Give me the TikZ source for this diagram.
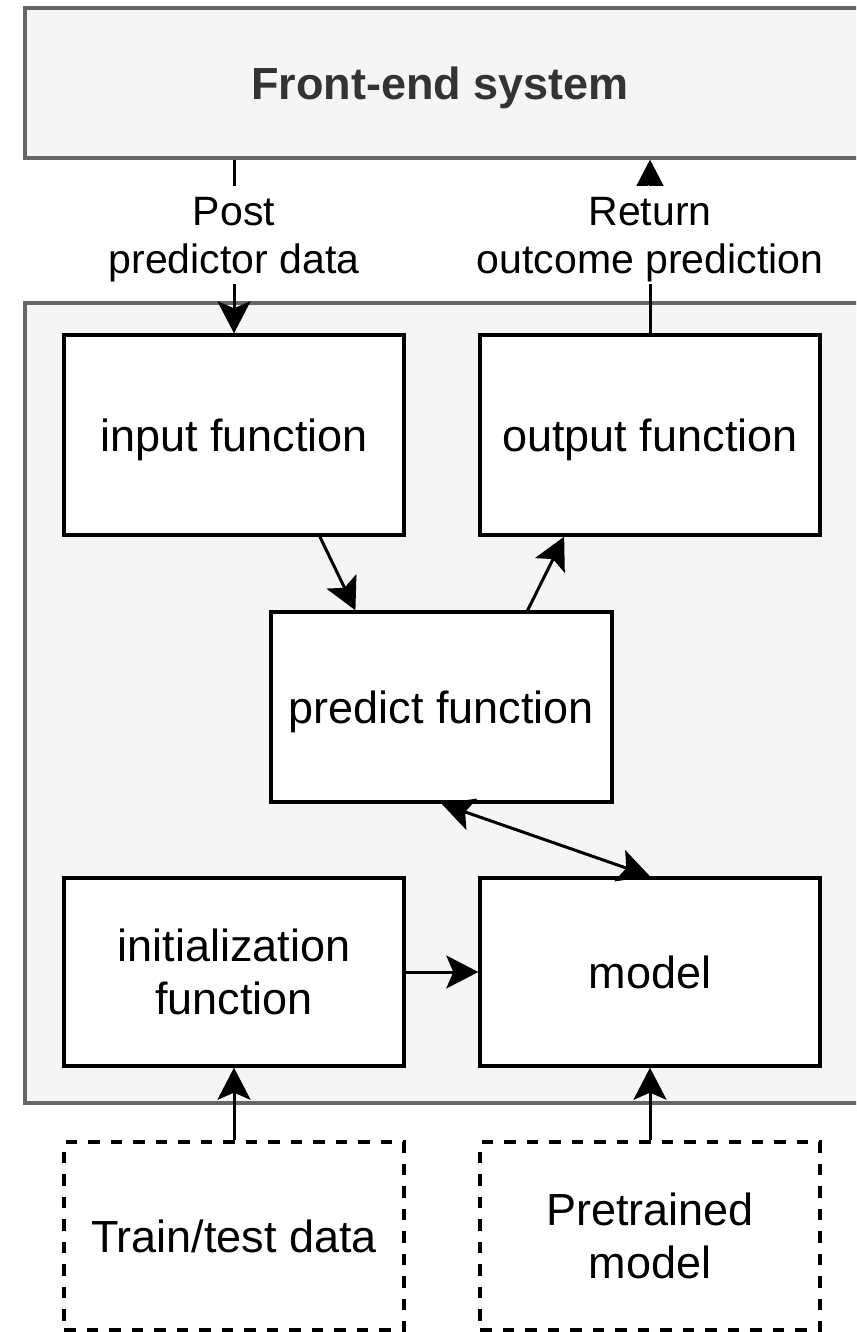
\documentclass[tikz,border=0pt]{standalone}
\usepackage{fontspec}
\setmainfont{Liberation Sans}
\usetikzlibrary{arrows.meta,calc}
\definecolor{panel}{HTML}{F5F5F5}
\definecolor{panelborder}{HTML}{666666}
\definecolor{fetext}{HTML}{333333}
\newcommand\boxfont{\fontsize{45}{53}\selectfont}
\newcommand\lblfont{\fontsize{41}{48}\selectfont}
\tikzset{
  panelbox/.style={draw=panelborder, fill=panel, line width=3.2pt, inner sep=0pt},
  box/.style={draw, line width=3.4pt, fill=white, minimum width=340pt, minimum height=188pt,
              inner sep=0pt, align=center, font=\boxfont, text depth=0pt},
  dashedbox/.style={dash pattern=on 11.5pt off 11pt},
  tipstyle/.style={},
  arr/.style={line width=3pt, -{Stealth[length=32pt,width=33pt,inset=7pt]}},
  dblarr/.style={line width=3pt, {Stealth[length=32pt,width=33pt,inset=7pt]}-{Stealth[length=32pt,width=33pt,inset=7pt]}},
  lbl/.style={fill=white, inner sep=0pt, minimum height=98pt, align=center, font=\lblfont, text depth=0pt}
}
\begin{document}
\begin{tikzpicture}[x=1pt,y=-1pt]
\useasboundingbox (0,0) rectangle (856,1332);
\clip (0,0) rectangle (856,1332);
\fill[white] (0,0) rectangle (856,1332);
% panels
\node[panelbox, minimum width=860pt, minimum height=150pt,
      label={[xshift=-15pt, font=\bfseries\boxfont, text=fetext, text depth=0pt]center:Front-end system}] (fe) at (455,83) {};
\node[panelbox, minimum width=860pt, minimum height=800pt] (cont) at (455,703) {};
% boxes
\node[box, minimum height=200pt] (in) at (234,435) {input function};
\node[box, minimum height=200pt] (out) at (650,435) {output function};
\node[box, minimum width=341pt, minimum height=190pt] (pred) at (441.5,707) {predict function};
\node[box] (init) at (234,972) {initialization\\function};
\node[box] (model) at (650,972) {model};
\node[box, dashedbox] (train) at (234,1236) {Train/test data};
\node[box, dashedbox] (pre) at (650,1236) {Pretrained\\model};
% connectors
\draw[arr] (in.north |- fe.south) -- (in.north);
\draw[arr] (out.north) -- (out.north |- fe.south);
\draw[arr] ($(in.south west)!0.75!(in.south east)$) -- ($(pred.north west)!0.25!(pred.north east)$);
\draw[arr] ($(pred.north west)!0.75!(pred.north east)$) -- ($(out.south west)!0.25!(out.south east)$);
\draw[dblarr] (pred.south) -- (model.north);
\draw[arr] (init.east) -- (model.west);
\draw[arr] (train.north) -- (init.south);
\draw[arr] (pre.north) -- (model.south);
% labels
\node[lbl] (postlbl) at (234,235) {Post\\predictor data};
\node[lbl] (retlbl) at (650,235) {Return\\outcome prediction};
\end{tikzpicture}
\end{document}
